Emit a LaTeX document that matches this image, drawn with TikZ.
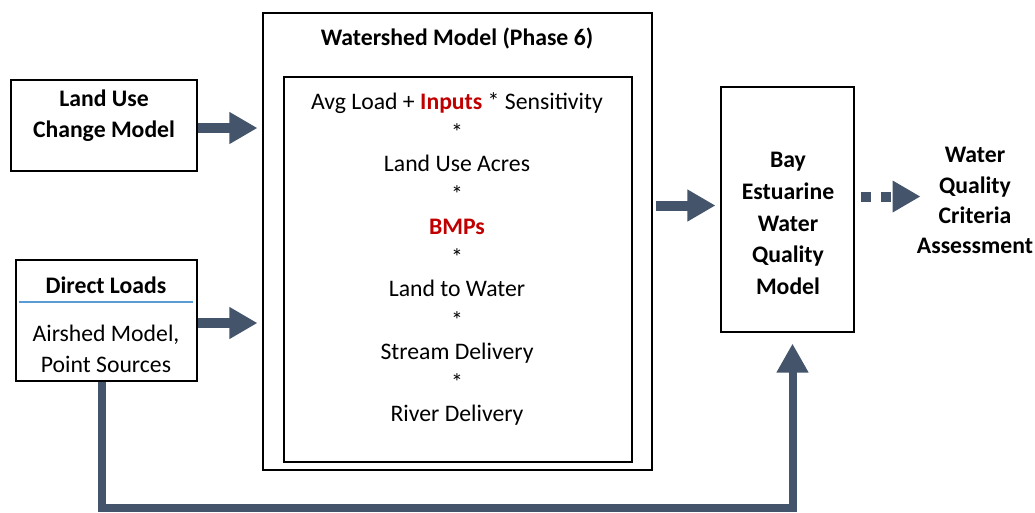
\documentclass[tikz,border=0pt]{standalone}
\usepackage{fontspec}
\setmainfont{Carlito}
\usetikzlibrary{arrows.meta,fit}
\definecolor{slateblue}{HTML}{44546A}
\definecolor{inputred}{HTML}{C00000}
\definecolor{ruleblue}{HTML}{5B9BD5}

\begin{document}
\begin{tikzpicture}[x=0.02cm,y=-0.02cm,
    box/.style={draw, line width=0.6pt, inner sep=0pt},
    txt/.style={align=center, font=\fontsize{13.5}{17.6}\selectfont},
    blockarrow/.style={slateblue, line width=0.2cm, -{Triangle[length=0.56cm,width=0.6cm]}}]
    \useasboundingbox (0,0) rectangle (1035,512);
    % boxes
    \node[box, fit={(11,80) (197,171)}] (landuse) {};
    \node[box, fit={(16,260) (197,381)}] (direct) {};
    \node[box, fit={(263,13) (652,470)}] (ws) {};
    \node[box, fit={(284,77) (632,462)}] (wsinner) {};
    \node[box, fit={(721,87) (854,332)}] (bay) {};
    % texts
    \node[txt, font=\fontsize{13.5}{17.6}\selectfont\bfseries] (landusetxt) at (104,115.5) {Land Use\\Change Model};
    \node[txt, font=\fontsize{13.5}{17.6}\selectfont\bfseries] (directtxt) at (106,285) {Direct Loads};
    \draw[ruleblue, line width=0.8pt] (19,302) -- (193,302);
    \node[txt] (airshed) at (106,348.5) {Airshed Model,\\Point Sources};
    \node[txt, font=\fontsize{13.5}{17.6}\selectfont\bfseries] (wstitle) at (457,38) {Watershed Model (Phase 6)};
    \node[txt, font=\fontsize{13.5}{17.8}\selectfont] (formula) at (457,259) {Avg Load + \textbf{\color{inputred}Inputs} * Sensitivity\\*\\Land Use Acres\\*\\\textbf{\color{inputred}BMPs}\\*\\Land to Water\\*\\Stream Delivery\\*\\River Delivery};
    \node[txt, font=\fontsize{13.5}{18}\selectfont\bfseries] (baytxt) at (788,223.5) {Bay\\Estuarine\\Water\\Quality\\Model};
    \node[txt, font=\fontsize{13.5}{17.2}\selectfont\bfseries] (wqca) at (975,200.5) {Water\\Quality\\Criteria\\Assessment};
    % arrows
    \draw[blockarrow] ([yshift=-0.05cm]landuse.east) -- ([yshift=-0.05cm,xshift=-0.1cm]landuse.east -| ws.west);
    \draw[blockarrow] ([yshift=-0.05cm]direct.east) -- ([yshift=-0.05cm,xshift=-0.1cm]direct.east -| ws.west);
    \draw[blockarrow] ([xshift=0.06cm,yshift=0.08cm]ws.east |- bay.west) -- ([xshift=-0.1cm,yshift=0.08cm]bay.west);
    \draw[blockarrow, dash pattern=on 0.2cm off 0.2cm] ([xshift=0.12cm,yshift=0.26cm]bay.east) -- ([xshift=1.32cm,yshift=0.26cm]bay.east);
    \coordinate (bottom) at (102,508);
    \draw[slateblue, line width=0.16cm, -{Triangle[length=0.58cm,width=0.6cm]}] (direct.south -| bottom) -- (bottom) -| ([xshift=0.1cm,yshift=-0.22cm]bay.south);
\end{tikzpicture}
\end{document}
